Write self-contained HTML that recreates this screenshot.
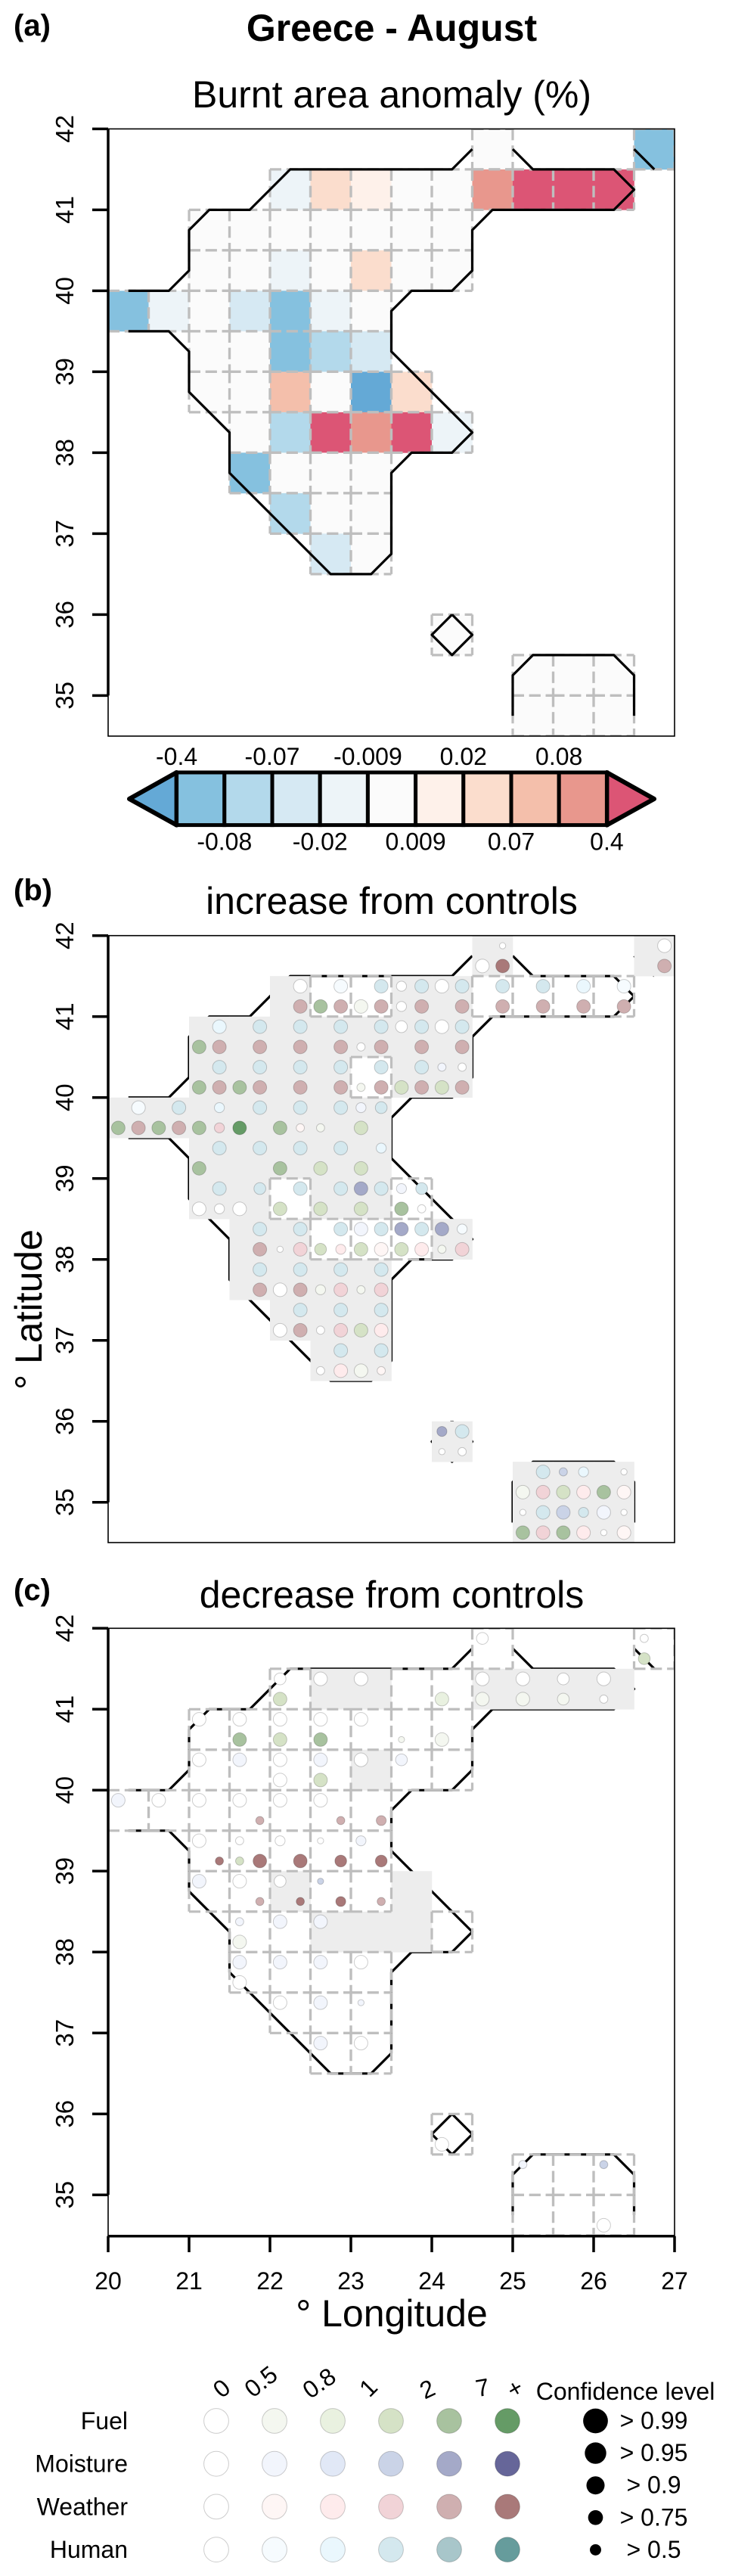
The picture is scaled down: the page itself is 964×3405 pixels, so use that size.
<!DOCTYPE html>
<html lang="en">
<head>
<meta charset="utf-8">
<title>Greece - August</title>
<style>
html,body{margin:0;padding:0;background:#fff;}
svg{display:block;font-family:"Liberation Sans",Arial,sans-serif;fill:#000;}
</style>
</head>
<body>
<svg id="figure" xmlns="http://www.w3.org/2000/svg" width="964" height="3405" viewBox="0 0 964 3405">
  <rect x="0" y="0" width="964" height="3405" fill="#ffffff"/>
  <text x="518" y="54" font-size="50" font-weight="bold" text-anchor="middle">Greece - August</text>
  <text x="18" y="47" font-size="40" font-weight="bold">(a)</text>
  <text x="518" y="142" font-size="50" text-anchor="middle">Burnt area anomaly (%)</text>
  <text x="18" y="1190" font-size="40" font-weight="bold">(b)</text>
  <text x="518" y="1208" font-size="50" text-anchor="middle">increase from controls</text>
  <text x="18" y="2115" font-size="40" font-weight="bold">(c)</text>
  <text x="518" y="2125" font-size="50" text-anchor="middle">decrease from controls</text>
  <text x="55" y="1731" font-size="50" text-anchor="middle" transform="rotate(-90 55 1731)">° Latitude</text>
  <text x="518" y="3075" font-size="50" text-anchor="middle">° Longitude</text>
  <text x="827" y="3172" font-size="32" text-anchor="middle">Confidence level</text>
  <g id="layer"></g>
</svg>
<script>
const latTicks = [42, 41, 40, 39, 38, 37, 36, 35];
const lonTicks = [20, 21, 22, 23, 24, 25, 26, 27];

const barColors = ['#64A9D6','#85C1DF','#B3D9EB','#D6E9F3','#EDF4F8','#FBFBFB','#FEF1EA','#FBDDCD','#F4BFAB','#E8978D','#DC5575'];
const barBreaks = [-0.4,-0.08,-0.07,-0.02,-0.009,0.009,0.02,0.07,0.08,0.4];
const barLabels = ['-0.4','-0.08','-0.07','-0.02','-0.009','0.009','0.02','0.07','0.08','0.4'];

// [lon, lat of cell lower-left, anomaly %]
const anomalyCells = [
[24.5,41.5,0],[26.5,41.5,-0.2],
[22,41,-0.015],[22.5,41,0.04],[23,41,0.015],[23.5,41,0],[24,41,0],[24.5,41,0.2],[25,41,0.5],[25.5,41,0.5],[26,41,0.5],
[21,40.5,0],[21.5,40.5,0],[22,40.5,0],[22.5,40.5,0],[23,40.5,0],[23.5,40.5,0],[24,40.5,0],
[21,40,0],[21.5,40,0],[22,40,-0.015],[22.5,40,0],[23,40,0.04],[23.5,40,0],[24,40,0],
[20,39.5,-0.2],[20.5,39.5,-0.015],[21,39.5,0],[21.5,39.5,-0.04],[22,39.5,-0.2],[22.5,39.5,-0.015],[23,39.5,0],
[21,39,0],[21.5,39,0],[22,39,-0.2],[22.5,39,-0.075],[23,39,-0.04],
[21,38.5,0],[21.5,38.5,0],[22,38.5,0.075],[22.5,38.5,0],[23,38.5,-0.5],[23.5,38.5,0.04],
[21.5,38,0],[22,38,-0.075],[22.5,38,0.5],[23,38,0.2],[23.5,38,0.5],[24,38,-0.015],
[21.5,37.5,-0.2],[22,37.5,0],[22.5,37.5,0],[23,37.5,0],
[22,37,-0.075],[22.5,37,0],[23,37,0],
[22.5,36.5,-0.04],[23,36.5,0],
[24,35.5,0],
[25,35,0],[25.5,35,0],[26,35,0],
[25,34.5,0],[25.5,34.5,0],[26,34.5,0]
];

// cells with no signal in panel b (white there, grey in panel c)
const increaseEmptyCells = [
[22.5,41],[23,41],[24.5,41],[25,41],[25.5,41],[26,41],
[23,40],[22,38.5],[23.5,38.5],[22.5,38],[23,38],[23.5,38]
];

const coastLines = [
[[25,41.75],[25.25,41.5],[26.25,41.5],[26.5,41.25],[26.25,41],[24.75,41],[24.5,40.75],[24.5,40.25],[24.25,40],[23.75,40],[23.5,39.75],[23.5,39.25],[24.5,38.25],[24.25,38],[23.75,38],[23.5,37.75],[23.5,36.75],[23.25,36.5],[22.75,36.5],[21.5,37.75],[21.5,38.25],[21,38.75],[21,39.25],[20.75,39.5],[20.25,39.5]],
[[20.25,40],[20.75,40],[21,40.25],[21,40.75],[21.25,41],[21.75,41],[22.25,41.5],[24.25,41.5],[24.5,41.75]],
[[26.5,41.75],[26.75,41.5]],
[[24.25,36],[24.5,35.75],[24.25,35.5],[24,35.75],[24.25,36]],
[[25,34.75],[25,35.25],[25.25,35.5],[26.25,35.5],[26.5,35.25],[26.5,34.75]]
];

const drivers = ['Fuel','Moisture','Weather','Human'];
const driverKeys = ['F','M','W','H'];
const ratioLevels = [0,0.5,0.8,1,2,7];
const ratioLabels = ['0','0.5','0.8','1','2','7','+'];
const confLevels = [0.99,0.95,0.9,0.75,0.5];
const confLabels = ['> 0.99','> 0.95','> 0.9','> 0.75','> 0.5'];
const driverColors = {
  F:['#FFFFFF','#F4F7F0','#E9F1E0','#D5E2C6','#A8C29F','#659B66'],
  M:['#FFFFFF','#F2F5FC','#E1E8F6','#CAD3E7','#A4A9C8','#666699'],
  W:['#FFFFFF','#FEF6F5','#FEEBEC','#F1D3D7','#CFAFB0','#A97979'],
  H:['#FFFFFF','#F6FBFE','#EAF7FD','#D4E8EE','#A8C6CA','#669C9C']
};

// rows: [lat, [[lon, driver, ratio, confidence], ...]]
const increaseDots = [
[41.875,[[24.875,'H',0,.5],[26.875,'H',0,.99]]],
[41.625,[[24.625,'F',0,.99],[24.875,'W',7,.99],[26.875,'W',2,.99]]],
[41.375,[[22.375,'H',0,.99],[22.875,'H',.5,.99],[23.375,'H',1,.99],[23.625,'M',0,.9],[23.875,'H',1,.99],[24.125,'M',0,.99],[24.375,'H',1,.99],[24.875,'H',1,.99],[25.375,'H',1,.99],[25.875,'H',.8,.99],[26.375,'H',.5,.99]]],
[41.125,[[22.375,'W',2,.99],[22.625,'F',2,.99],[22.875,'W',2,.99],[23.125,'F',.5,.99],[23.375,'W',2,.99],[23.625,'F',0,.9],[23.875,'W',2,.99],[24.375,'W',2,.99],[24.875,'W',2,.99],[25.375,'W',2,.99],[25.875,'W',2,.99],[26.375,'W',2,.99]]],
[40.875,[[21.375,'H',.8,.99],[21.875,'H',1,.99],[22.375,'H',1,.99],[22.875,'H',1,.99],[23.375,'H',1,.99],[23.625,'M',0,.95],[23.875,'H',1,.99],[24.125,'M',0,.99],[24.375,'H',1,.99]]],
[40.625,[[21.125,'F',2,.99],[21.375,'W',2,.99],[21.875,'W',2,.99],[22.375,'W',2,.99],[22.875,'W',2,.99],[23.125,'F',0,.75],[23.375,'W',2,.99],[23.875,'W',2,.99],[24.375,'W',2,.99]]],
[40.375,[[21.375,'H',1,.99],[21.875,'H',1,.99],[22.375,'H',1,.99],[22.875,'H',1,.99],[23.375,'H',1,.99],[23.875,'H',1,.99],[24.125,'M',.5,.75],[24.375,'H',0,.75]]],
[40.125,[[21.125,'F',2,.99],[21.375,'W',2,.99],[21.625,'F',2,.99],[21.875,'W',2,.99],[22.375,'W',2,.99],[22.875,'W',2,.99],[23.125,'F',.5,.75],[23.375,'W',2,.99],[23.625,'F',1,.99],[23.875,'W',2,.99],[24.125,'F',1,.99],[24.375,'W',2,.99]]],
[39.875,[[20.375,'H',.5,.99],[20.875,'H',1,.99],[21.375,'H',.8,.9],[21.875,'H',1,.99],[22.375,'H',1,.99],[22.875,'H',1,.99],[23.125,'M',.5,.9],[23.375,'H',1,.95]]],
[39.625,[[20.125,'F',2,.99],[20.375,'W',2,.99],[20.625,'F',2,.99],[20.875,'W',2,.99],[21.125,'F',2,.99],[21.375,'W',1,.9],[21.625,'F',7,.99],[22.125,'F',2,.99],[22.375,'W',.5,.75],[22.625,'F',.5,.75],[23.125,'F',1,.99]]],
[39.375,[[21.375,'H',1,.99],[21.875,'H',1,.99],[22.375,'H',1,.99],[22.875,'H',1,.99],[23.375,'H',.8,.9]]],
[39.125,[[21.125,'F',2,.99],[22.125,'F',2,.99],[22.625,'F',1,.99],[23.125,'F',1,.99]]],
[38.875,[[21.375,'H',1,.99],[21.875,'H',1,.95],[22.375,'H',1,.99],[22.875,'H',1,.99],[23.125,'M',2,.99],[23.375,'H',1,.99],[23.625,'M',.5,.9],[23.875,'H',1,.95]]],
[38.625,[[21.125,'F',0,.99],[21.375,'W',0,.9],[21.625,'F',0,.99],[22.125,'F',1,.99],[22.625,'F',1,.99],[23.125,'F',1,.99],[23.625,'F',2,.99],[23.875,'W',0,.75]]],
[38.375,[[21.875,'H',1,.99],[22.375,'H',1,.99],[22.875,'H',1,.99],[23.125,'M',.5,.99],[23.375,'H',1,.99],[23.625,'M',2,.99],[23.875,'H',1,.99],[24.125,'M',2,.99],[24.375,'H',.5,.9]]],
[38.125,[[21.875,'W',2,.99],[22.125,'F',0,.5],[22.375,'W',1,.99],[22.625,'F',1,.95],[22.875,'W',.8,.9],[23.125,'F',1,.99],[23.375,'W',.5,.99],[23.625,'F',1,.99],[23.875,'W',.8,.99],[24.125,'F',.5,.75],[24.375,'W',1,.99]]],
[37.875,[[21.875,'H',1,.99],[22.375,'H',1,.99],[22.875,'H',1,.99],[23.375,'H',1,.99]]],
[37.625,[[21.875,'W',2,.99],[22.125,'F',0,.99],[22.375,'W',2,.99],[22.625,'F',.5,.9],[22.875,'W',1,.99],[23.125,'F',.5,.75],[23.375,'W',1,.99]]],
[37.375,[[22.375,'H',1,.99],[22.875,'H',1,.99],[23.375,'H',1,.99]]],
[37.125,[[22.125,'F',0,.99],[22.375,'W',2,.99],[22.625,'F',0,.75],[22.875,'W',1,.99],[23.125,'F',1,.99],[23.375,'W',.8,.99]]],
[36.875,[[22.875,'H',1,.99],[23.375,'H',1,.99]]],
[36.625,[[22.625,'F',0,.75],[22.875,'W',.8,.99],[23.125,'F',.5,.99],[23.375,'W',.5,.75]]],
[35.875,[[24.125,'M',2,.9],[24.375,'H',1,.99]]],
[35.625,[[24.125,'F',0,.5],[24.375,'W',0,.75]]],
[35.375,[[25.375,'H',1,.99],[25.625,'M',1,.75],[25.875,'H',.8,.9],[26.375,'H',0,.5]]],
[35.125,[[25.125,'F',.5,.99],[25.375,'W',1,.99],[25.625,'F',1,.99],[25.875,'W',.8,.99],[26.125,'F',2,.99],[26.375,'W',.5,.99]]],
[34.875,[[25.125,'M',0,.5],[25.375,'H',1,.99],[25.625,'M',1,.99],[25.875,'H',1,.9],[26.125,'M',.5,.99],[26.375,'H',0,.5]]],
[34.625,[[25.125,'F',2,.99],[25.375,'W',1,.99],[25.625,'F',2,.99],[25.875,'W',.8,.99],[26.125,'F',0,.5],[26.375,'W',.5,.99]]]
];

const decreaseDots = [
[41.875,[[24.625,'M',0,.95],[26.625,'M',0,.75]]],
[41.625,[[26.625,'F',1,.95]]],
[41.375,[[22.125,'M',0,.95],[22.625,'M',0,.99],[23.125,'M',0,.99],[24.625,'M',0,.99],[25.125,'M',0,.99],[25.625,'M',0,.95],[26.125,'M',0,.99]]],
[41.125,[[22.125,'F',1,.99],[24.125,'F',.8,.99],[24.625,'F',.5,.99],[25.125,'F',.5,.99],[25.625,'F',.5,.95],[26.125,'F',0,.75]]],
[40.875,[[21.125,'M',0,.99],[21.625,'M',0,.99],[22.125,'M',0,.99],[22.625,'M',0,.99],[23.125,'M',0,.99]]],
[40.625,[[21.625,'F',2,.99],[22.125,'F',1,.99],[22.625,'F',2,.99],[23.625,'F',.5,.5],[24.125,'F',.5,.99]]],
[40.375,[[21.125,'M',0,.99],[21.625,'M',.5,.99],[22.125,'M',0,.99],[22.625,'M',.5,.99],[23.125,'M',0,.99],[23.625,'M',.5,.95]]],
[40.125,[[22.125,'F',0,.99],[22.625,'F',1,.99]]],
[39.875,[[20.125,'M',.5,.99],[20.625,'M',0,.99],[21.125,'M',0,.99],[21.625,'M',0,.99],[22.125,'M',0,.99],[22.625,'M',0,.99]]],
[39.625,[[21.875,'W',2,.75],[22.875,'W',2,.75],[23.375,'W',2,.9]]],
[39.375,[[21.125,'M',0,.99],[21.625,'M',0,.75],[22.125,'M',0,.9],[22.625,'M',0,.5],[23.125,'M',.5,.9]]],
[39.125,[[21.375,'W',7,.75],[21.625,'F',1,.75],[21.875,'W',7,.99],[22.375,'W',7,.99],[22.875,'W',7,.95],[23.375,'W',7,.95]]],
[38.875,[[21.125,'M',.5,.99],[21.625,'M',0,.99],[22.125,'M',0,.95],[22.625,'M',1,.5]]],
[38.625,[[21.875,'W',2,.75],[22.375,'W',7,.75],[22.875,'W',7,.9],[23.375,'W',2,.75]]],
[38.375,[[21.625,'M',.5,.75],[22.125,'M',.5,.99],[22.625,'M',.5,.99]]],
[38.125,[[21.625,'F',.5,.99]]],
[37.875,[[21.625,'M',.5,.99],[22.125,'M',.5,.99],[22.625,'M',.5,.99],[23.125,'M',0,.99]]],
[37.625,[[21.625,'F',0,.99]]],
[37.375,[[22.125,'M',0,.99],[22.625,'M',.5,.99],[23.125,'M',.5,.5]]],
[36.875,[[22.625,'M',.5,.99],[23.125,'M',0,.99]]],
[35.625,[[24.125,'F',0,.99]]],
[35.375,[[25.125,'M',.5,.75],[26.125,'M',1,.75]]],
[34.625,[[26.125,'F',0,.99]]]
];

const NS = 'http://www.w3.org/2000/svg';
const layer = document.getElementById('layer');
const svgRoot = document.getElementById('figure');
function el(tag, attrs, parent, text) {
  const n = document.createElementNS(NS, tag);
  for (const k in attrs) n.setAttribute(k, attrs[k]);
  if (text !== undefined) n.textContent = text;
  (parent || layer).appendChild(n);
  return n;
}

const LEFT = 143, RIGHT = 892, PER_DEG = 107;
const DOT_STROKE = 'rgba(0,0,0,0.2)';
const xOf = lon => LEFT + (lon - 20) * PER_DEG;
const colorOf = v => { let i = 0; while (i < barBreaks.length && v >= barBreaks[i]) i++; return barColors[i]; };
const levelIndex = r => { let i = 0; while (i + 1 < ratioLevels.length && r >= ratioLevels[i + 1]) i++; return i; };
const sizeOf = c => [9, 7.8, 6.6, 5.4, 4.1][confLevels.indexOf(c)];
const key = (lon, lat) => lon + '_' + lat;
const emptySet = new Set(increaseEmptyCells.map(c => key(c[0], c[1])));

function drawCoast(g, yOf) {
  coastLines.forEach(line => {
    const c = el('polyline', {points: line.map(p => xOf(p[0]) + ',' + yOf(p[1])).join(' '), fill: 'none', stroke: '#000', 'stroke-width': 3.2, 'stroke-linejoin': 'round'}, g);
    
    
  });
}
function drawDashed(g, yOf, lon, lat) {
  // every edge runs left-to-right or top-to-bottom so shared edges keep the same dash phase
  const x0 = xOf(lon), y0 = yOf(lat + 0.5), s = PER_DEG / 2;
  const d = el('path', {d: 'M' + x0 + ' ' + y0 + 'h' + s + 'M' + x0 + ' ' + (y0 + s) + 'h' + s + 'M' + x0 + ' ' + y0 + 'v' + s + 'M' + (x0 + s) + ' ' + y0 + 'v' + s, fill: 'none', stroke: '#BEBEBE', 'stroke-width': 3.2, 'stroke-dasharray': '15 6.8'}, g);
  
  
}
function drawGrey(g, yOf, lon, lat) {
  const r = el('rect', {x: xOf(lon), y: yOf(lat + 0.5), width: PER_DEG / 2 + 0.3, height: PER_DEG / 2 + 0.3, fill: '#EDEDED'}, g);
  
  
}
function drawDots(g, yOf, rows) {
  rows.forEach(row => row[1].forEach(d => {
    const c = el('circle', {cx: xOf(d[0]), cy: yOf(row[0]), r: sizeOf(d[3]), fill: driverColors[d[1]][levelIndex(d[2])], stroke: DOT_STROKE, 'stroke-width': 1}, g);
    
    
  }));
}
function drawPanel(name, top, bottom, kind) {
  const yOf = lat => top + (42 - lat) * PER_DEG;
  const cp = el('clipPath', {id: 'clip-' + name}, svgRoot);
  el('rect', {x: LEFT, y: top, width: RIGHT - LEFT, height: bottom - top}, cp);
  const g = el('g', {'clip-path': 'url(#clip-' + name + ')'});
  
  

  if (kind === 'anomaly') {
    anomalyCells.forEach(c => {
      const r = el('rect', {x: xOf(c[0]), y: yOf(c[1] + 0.5), width: PER_DEG / 2 + 0.3, height: PER_DEG / 2 + 0.3, fill: colorOf(c[2])}, g);
      
      
    });
    anomalyCells.forEach(c => drawDashed(g, yOf, c[0], c[1]));
    drawCoast(g, yOf);
  } else {
    drawCoast(g, yOf);
    const greyWhenEmpty = kind === 'decrease';
    anomalyCells.forEach(c => {
      if (emptySet.has(key(c[0], c[1])) === greyWhenEmpty) drawGrey(g, yOf, c[0], c[1]);
    });
    anomalyCells.forEach(c => {
      if (emptySet.has(key(c[0], c[1])) !== greyWhenEmpty) drawDashed(g, yOf, c[0], c[1]);
    });
    drawDots(g, yOf, kind === 'increase' ? increaseDots : decreaseDots);
  }

  const box = el('rect', {x: LEFT, y: top, width: RIGHT - LEFT, height: bottom - top, fill: 'none', stroke: '#000', 'stroke-width': 1.6});
  
  
  const axis = el('line', {x1: LEFT, x2: LEFT, y1: yOf(42), y2: yOf(35), stroke: '#000', 'stroke-width': 3.5});
  
  
  latTicks.forEach(t => {
    const tick = el('line', {x1: 122, x2: LEFT, y1: yOf(t), y2: yOf(t), stroke: '#000', 'stroke-width': 3.5});
    
    
    const lab = el('text', {x: 97, y: yOf(t), 'font-size': 33, 'text-anchor': 'middle', transform: 'rotate(-90 97 ' + yOf(t) + ')'}, layer, String(t));
    
    
  });
}

drawPanel('a', 170.4, 973, 'anomaly');
drawPanel('b', 1236.7, 2039, 'increase');
drawPanel('c', 2152.3, 2955.7, 'decrease');

// x axis (panel c only)
const xAxisLine = el('line', {x1: LEFT, x2: RIGHT, y1: 2955.7, y2: 2955.7, stroke: '#000', 'stroke-width': 3.5});


lonTicks.forEach(t => {
  const tick = el('line', {x1: xOf(t), x2: xOf(t), y1: 2955.7, y2: 2977, stroke: '#000', 'stroke-width': 3.5});
  
  
  const lab = el('text', {x: xOf(t), y: 3026, 'font-size': 32, 'text-anchor': 'middle'}, layer, String(t));
  
  
});

// colour bar
const BAR_L = 233.6, BAR_STEP = 63.2, BAR_T = 1021, BAR_B = 1090.6, BAR_MID = 1056;
const barX = i => BAR_L + i * BAR_STEP;
const barG = el('g', {});


const tipL = el('polygon', {points: barX(0) + ',' + BAR_T + ' 171,' + BAR_MID + ' ' + barX(0) + ',' + BAR_B, fill: barColors[0], stroke: '#000', 'stroke-width': 6, 'stroke-linejoin': 'round'}, barG);


const lastIdx = barBreaks.length - 1;
const tipR = el('polygon', {points: barX(lastIdx) + ',' + BAR_T + ' 865,' + BAR_MID + ' ' + barX(lastIdx) + ',' + BAR_B, fill: barColors[barColors.length - 1], stroke: '#000', 'stroke-width': 6, 'stroke-linejoin': 'round'}, barG);


for (let i = 0; i < lastIdx; i++) {
  const seg = el('rect', {x: barX(i), y: BAR_T, width: BAR_STEP, height: BAR_B - BAR_T, fill: barColors[i + 1], stroke: '#000', 'stroke-width': 5}, barG);
  
  
}
barLabels.forEach((t, i) => {
  const lab = el('text', {x: barX(i), y: i % 2 === 0 ? 1011 : 1123.5, 'font-size': 32, 'text-anchor': 'middle'}, layer, t);
  
  
});

// ratio legend
const legendX = i => 286 + i * 77;
const legendY = i => 3200 + i * 56.7;
const headerTurn = [[293,3157,-40],[345,3148,-38],[422,3150,-35],[487,3156,-45],[565,3158,-25],[638,3156,-10],[681,3157,-30]];
ratioLabels.forEach((t, i) => {
  const p = headerTurn[i];
  const lab = el('text', {x: p[0], y: p[1] + 11, 'font-size': 32, 'text-anchor': 'middle', transform: 'rotate(' + p[2] + ' ' + p[0] + ' ' + p[1] + ')'}, layer, t);
  
  
});
drivers.forEach((name, row) => {
  const lab = el('text', {x: 169, y: legendY(row) + 11, 'font-size': 32, 'text-anchor': 'end'}, layer, name);
  
  
  ratioLevels.forEach((r, col) => {
    const c = el('circle', {cx: legendX(col), cy: legendY(row), r: 16.4, fill: driverColors[driverKeys[row]][col], stroke: DOT_STROKE, 'stroke-width': 1});
    
    
  });
});

// confidence legend
const confY = i => 3200 + i * 42.6;
confLevels.forEach((c, i) => {
  const dot = el('circle', {cx: 787.5, cy: confY(i), r: sizeOf(c) * 1.82, fill: '#000'});
  
  
  const lab = el('text', {x: 864.5, y: confY(i) + 10.5, 'font-size': 32, 'text-anchor': 'middle'}, layer, confLabels[i]);
  
  
});
</script>
</body>
</html>
